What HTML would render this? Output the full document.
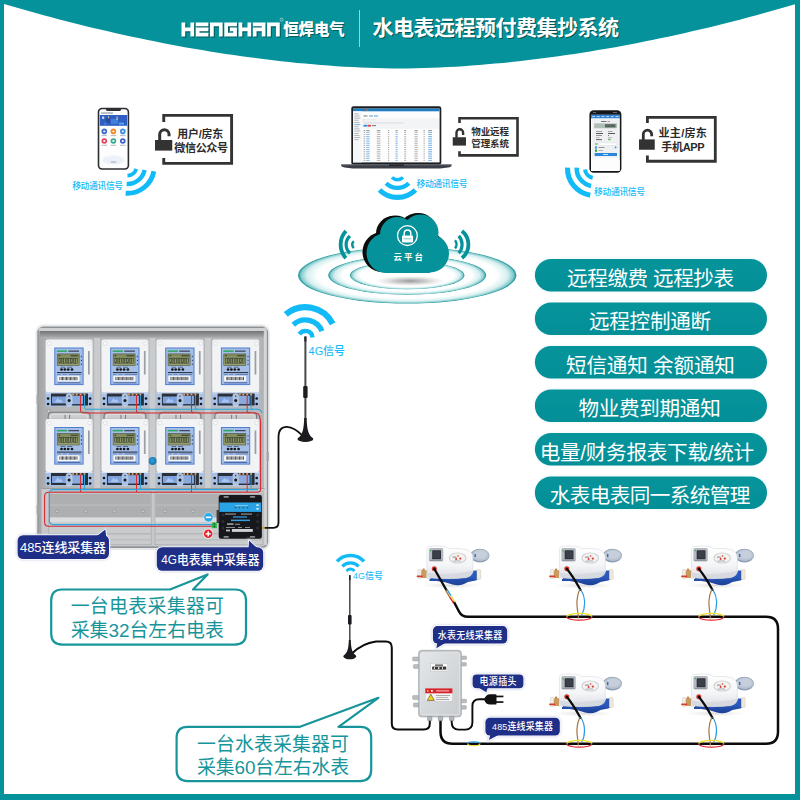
<!DOCTYPE html>
<html><head><meta charset="utf-8"><title>diagram</title>
<style>html,body{margin:0;padding:0;background:#fff;font-family:"Liberation Sans",sans-serif}svg{display:block}svg text{font-family:"Liberation Sans","Noto Sans CJK SC",sans-serif}</style>
</head><body>
<svg width="800" height="800" viewBox="0 0 800 800">
<defs><filter id="sh" x="-5%" y="-20%" width="110%" height="150%"><feGaussianBlur stdDeviation="0.7"/></filter><radialGradient id="rip"><stop offset="0" stop-color="#fff"/><stop offset="0.82" stop-color="#fff"/><stop offset="0.92" stop-color="#d6efef"/><stop offset="0.972" stop-color="#86cbce"/><stop offset="0.992" stop-color="#2b9da2"/><stop offset="1" stop-color="#2b9da2"/></radialGradient><radialGradient id="csh"><stop offset="0" stop-color="#6e6e6e" stop-opacity="0.7"/><stop offset="0.45" stop-color="#9a9a9a" stop-opacity="0.5"/><stop offset="1" stop-color="#ccc" stop-opacity="0"/></radialGradient><linearGradient id="pg" x1="0" y1="0" x2="0" y2="1"><stop offset="0" stop-color="#06949b"/><stop offset="1" stop-color="#048f97"/></linearGradient><filter id="pglow" x="-3%" y="-15%" width="106%" height="130%"><feGaussianBlur stdDeviation="1.1"/></filter><linearGradient id="bxtop" x1="0" y1="0" x2="0" y2="1"><stop offset="0" stop-color="#727578"/><stop offset="0.7" stop-color="#9c9ea0"/><stop offset="1" stop-color="#b2b4b6"/></linearGradient><linearGradient id="bxbody" x1="0" y1="0" x2="1" y2="0"><stop offset="0" stop-color="#a2a4a6"/><stop offset="0.05" stop-color="#b4b6b8"/><stop offset="0.95" stop-color="#b9bbbd"/><stop offset="1" stop-color="#acaeb0"/></linearGradient><linearGradient id="lcd" x1="0" y1="0" x2="0" y2="1"><stop offset="0" stop-color="#7f8a5c"/><stop offset="1" stop-color="#98a272"/></linearGradient><g id="meter"><rect x="-0.6" y="-0.4" width="48.2" height="54" rx="2.4" fill="#a9acb0" opacity="0.55"/><rect x="0" y="0" width="47" height="53" rx="2" fill="#f2f3f4"/><circle cx="3.6" cy="4" r="1.9" fill="#fafafa" stroke="#c9ccd0" stroke-width="0.5"/><circle cx="44.2" cy="4" r="1.9" fill="#fafafa" stroke="#c9ccd0" stroke-width="0.5"/><rect x="42.4" y="11.5" width="1.7" height="23.5" fill="#9a9da1"/><g transform="translate(0 0.7)"><rect x="9.2" y="7.8" width="28.3" height="36.6" fill="#a5bee6" stroke="#4f7dd0" stroke-width="1"/><rect x="11.2" y="10.2" width="10.2" height="1.5" fill="#2aa860"/><rect x="22.8" y="10.3" width="10.6" height="1.3" fill="#3d4a66"/><rect x="11.6" y="13.7" width="22" height="11.6" fill="url(#lcd)" stroke="#4d5540" stroke-width="0.6"/><rect x="12.8" y="15" width="2" height="1" fill="#3a4030"/><rect x="25" y="15" width="7.6" height="1.1" fill="#3a4030"/><rect x="13.30" y="18" width="1.75" height="5" fill="none" stroke="#353b2b" stroke-width="0.55"/><rect x="15.70" y="18" width="1.75" height="5" fill="none" stroke="#353b2b" stroke-width="0.55"/><rect x="18.10" y="18" width="1.75" height="5" fill="none" stroke="#353b2b" stroke-width="0.55"/><rect x="20.50" y="18" width="1.75" height="5" fill="none" stroke="#353b2b" stroke-width="0.55"/><rect x="22.90" y="18" width="1.75" height="5" fill="none" stroke="#353b2b" stroke-width="0.55"/><rect x="25.30" y="18" width="1.75" height="5" fill="none" stroke="#353b2b" stroke-width="0.55"/><rect x="27.70" y="18" width="1.75" height="5" fill="none" stroke="#353b2b" stroke-width="0.55"/><rect x="30.10" y="18" width="1.75" height="5" fill="none" stroke="#353b2b" stroke-width="0.55"/><rect x="35.3" y="15.6" width="1.1" height="1.4" fill="#3d4a66"/><rect x="35.3" y="19.6" width="1.1" height="1.4" fill="#3d4a66"/><rect x="35.3" y="23.4" width="1.1" height="1.4" fill="#3d4a66"/><circle cx="15.9" cy="29.3" r="1.35" fill="#16181c"/><circle cx="19.2" cy="29.3" r="1.35" fill="#16181c"/><circle cx="22.6" cy="29.3" r="1.35" fill="#16181c"/><circle cx="26.4" cy="29.3" r="1.35" fill="#16181c"/><rect x="15" y="26.6" width="4.6" height="0.7" fill="#3d4a66"/><rect x="21.5" y="26.6" width="5" height="0.7" fill="#3d4a66"/><rect x="11.4" y="31.9" width="24.6" height="1" fill="#252b3d"/><rect x="11.4" y="33.8" width="4" height="0.8" fill="#5d7fc0"/><rect x="17" y="33.8" width="4" height="0.8" fill="#5d7fc0"/><rect x="23" y="33.8" width="12.8" height="0.8" fill="#5572a8"/><rect x="11.9" y="35.5" width="22" height="5.8" rx="1.2" fill="#f7f8f9"/><rect x="13.80" y="36.7" width="0.50" height="3.3" fill="#2a2c30"/><rect x="15.12" y="36.7" width="0.80" height="3.3" fill="#2a2c30"/><rect x="16.44" y="36.7" width="0.80" height="3.3" fill="#2a2c30"/><rect x="17.76" y="36.7" width="0.50" height="3.3" fill="#2a2c30"/><rect x="19.08" y="36.7" width="0.80" height="3.3" fill="#2a2c30"/><rect x="20.40" y="36.7" width="0.80" height="3.3" fill="#2a2c30"/><rect x="21.72" y="36.7" width="0.50" height="3.3" fill="#2a2c30"/><rect x="23.04" y="36.7" width="0.80" height="3.3" fill="#2a2c30"/><rect x="24.36" y="36.7" width="0.80" height="3.3" fill="#2a2c30"/><rect x="25.68" y="36.7" width="0.50" height="3.3" fill="#2a2c30"/><rect x="27.00" y="36.7" width="0.80" height="3.3" fill="#2a2c30"/><rect x="28.32" y="36.7" width="0.80" height="3.3" fill="#2a2c30"/><rect x="29.64" y="36.7" width="0.50" height="3.3" fill="#2a2c30"/><rect x="30.96" y="36.7" width="0.80" height="3.3" fill="#2a2c30"/><rect x="12" y="42.2" width="23" height="0.9" fill="#3b57a0"/></g><rect x="0" y="53" width="47" height="14" fill="#a8c1e7"/><rect x="0" y="53" width="47" height="1" fill="#d9e4f4"/><rect x="5.4" y="54" width="37" height="12" fill="#2b2f38"/><rect x="6.4" y="57" width="14" height="7" fill="#7da1dc"/><rect x="26.4" y="56.2" width="11" height="8.4" fill="#8aaade"/><path d="M9 63l3.2-4.4 1.6 2.2 1.2-1.4 2.6 3.6z" fill="#a9c4ee"/><rect x="20.6" y="54.3" width="5.8" height="12.4" rx="2.2" fill="#a8c1e7" stroke="#e6eefa" stroke-width="0.5"/><circle cx="23.5" cy="61" r="1.5" fill="#15171b"/><circle cx="23.5" cy="56.6" r="0.7" fill="#15171b"/><circle cx="2.5" cy="59.0" r="1.35" fill="#15171b"/><circle cx="2.5" cy="64.5" r="1.35" fill="#15171b"/><circle cx="44.5" cy="59.0" r="1.35" fill="#15171b"/><circle cx="44.5" cy="64.5" r="1.35" fill="#15171b"/><circle cx="27.6" cy="55.1" r="1.05" fill="#e9a468"/><circle cx="31.1" cy="55.1" r="1.05" fill="#e9a468"/><circle cx="35.0" cy="55.1" r="1.05" fill="#e9a468"/><circle cx="38.9" cy="55.1" r="1.05" fill="#e9a468"/></g><filter id="nglow" x="-10%" y="-30%" width="120%" height="160%"><feGaussianBlur stdDeviation="0.9"/></filter><linearGradient id="wbody" x1="0" y1="0" x2="0" y2="1"><stop offset="0" stop-color="#ffffff"/><stop offset="0.6" stop-color="#f4f5f7"/><stop offset="1" stop-color="#d9dce2"/></linearGradient><linearGradient id="wpipe" x1="0" y1="0" x2="0" y2="1"><stop offset="0" stop-color="#3a6fd0"/><stop offset="0.5" stop-color="#2650b0"/><stop offset="1" stop-color="#1b3f95"/></linearGradient><radialGradient id="wsh"><stop offset="0" stop-color="#999" stop-opacity="0.35"/><stop offset="1" stop-color="#bbb" stop-opacity="0"/></radialGradient><g id="wm"><ellipse cx="24" cy="39.5" rx="30" ry="3" fill="url(#wsh)"/><path d="M3 26H51V33.4Q50 34.6 46.5 35Q41 35.6 37.5 38Q32 40.4 26 38.6Q19 35.6 10 35H3Z" fill="url(#wpipe)"/><rect x="50" y="23.6" width="4.2" height="9.8" rx="1" fill="#efe9dc" stroke="#c9c0ac" stroke-width="0.4"/><rect x="46.8" y="24.5" width="3.4" height="8.6" fill="#2c58b8"/><rect x="-8.6" y="23.4" width="3.6" height="9.2" rx="0.8" fill="#f1efe9" stroke="#c8c2b4" stroke-width="0.4"/><rect x="-5.2" y="24.2" width="5.6" height="7.8" fill="#c99a5e"/><rect x="-4" y="22.6" width="2.2" height="2" fill="#b9874a"/><rect x="-9.8" y="29.6" width="6" height="1.6" rx="0.6" fill="#d83a30"/><rect x="0" y="27" width="4" height="6" fill="#e7e9ee"/><path d="M42 12L47 8.5" stroke="#9aa7ba" stroke-width="1.6"/><ellipse cx="53.4" cy="9.6" rx="9.6" ry="6.8" fill="#8e9db4"/><ellipse cx="53.8" cy="9.2" rx="8.7" ry="5.9" fill="#b9c4d2"/><ellipse cx="54.2" cy="8.6" rx="6.6" ry="4" fill="#c6cfdb"/><rect x="48" y="8" width="1.4" height="3" fill="#3a66b8"/><g transform="scale(1.035 1.05)"><path d="M2.4 0.6Q8 -0.8 17 0.4Q20.5 0.8 22 2.6Q30 1.6 38 3.2Q44.5 5 44.8 11V24Q44.6 28.6 38 30.2Q22 32 4 30.4Q0.4 29.8 0.4 26V3.6Q0.4 1 2.4 0.6Z" fill="url(#wbody)" stroke="#d2d5da" stroke-width="0.5"/><path d="M0.6 25.5Q20 29 44.6 23.6V24Q44.6 28.6 38 30.2Q22 32 4 30.4Q0.6 29.8 0.6 26Z" fill="#d5d8de" opacity="0.9"/></g><rect x="2.4" y="2" width="14.4" height="13.6" rx="1.6" fill="#b4b8c0"/><rect x="5.7" y="4.3" width="8.8" height="9" rx="0.6" fill="#2b2f37"/><rect x="6.6" y="5.2" width="7" height="7" fill="#3b4048"/><circle cx="4.2" cy="4.8" r="0.8" fill="#2fc04a"/><rect x="3.4" y="13.8" width="12" height="1" fill="#8a8e96"/><ellipse cx="31.2" cy="12" rx="8.8" ry="5.6" fill="#c9ccd2"/><ellipse cx="31.2" cy="12" rx="7.8" ry="4.7" fill="#f4f2ee"/><circle cx="29.6" cy="13" r="1" fill="#d83a30"/><circle cx="33.8" cy="12.6" r="1.1" fill="#d83a30"/><circle cx="31.6" cy="10" r="0.8" fill="#d83a30"/><rect x="26" y="10.6" width="4" height="1" fill="#889"/><rect x="27" y="14.6" width="7" height="0.8" fill="#99a"/><circle cx="7.8" cy="22.8" r="2.5" fill="#d93324"/><circle cx="7.8" cy="22.8" r="1" fill="#8a1c12"/></g><linearGradient id="cbx" x1="0" y1="0" x2="1" y2="1"><stop offset="0" stop-color="#e3e6e8"/><stop offset="1" stop-color="#c9cdd0"/></linearGradient></defs>
<rect width="800" height="800" fill="#05929a"/>
<rect x="4" y="0" width="791" height="794" fill="#fff"/>
<path d="M0 0H800V4L796.0 4.0L788.1 6.3L780.2 8.6L772.2 10.8L764.3 13.0L756.4 15.2L748.5 17.3L740.6 19.4L732.6 21.5L724.7 23.5L716.8 25.4L708.9 27.4L701.0 29.3L693.0 31.1L685.1 32.9L677.2 34.7L669.3 36.4L661.4 38.1L653.4 39.7L645.5 41.3L637.6 42.9L629.7 44.4L621.8 45.9L613.8 47.4L605.9 48.8L598.0 50.1L590.1 51.4L582.2 52.7L574.2 53.9L566.3 55.1L558.4 56.2L550.5 57.3L542.6 58.3L534.6 59.3L526.7 60.3L518.8 61.2L510.9 62.1L503.0 62.9L495.0 63.6L487.1 64.3L479.2 65.0L471.3 65.6L463.4 66.2L455.4 66.7L447.5 67.1L439.6 67.5L431.7 67.8L423.8 68.1L415.8 68.3L407.9 68.4L400.0 68.5L392.1 68.4L384.2 68.3L376.2 68.1L368.3 67.8L360.4 67.5L352.5 67.1L344.6 66.7L336.6 66.2L328.7 65.6L320.8 65.0L312.9 64.3L305.0 63.6L297.0 62.9L289.1 62.1L281.2 61.2L273.3 60.3L265.4 59.3L257.4 58.3L249.5 57.3L241.6 56.2L233.7 55.1L225.8 53.9L217.8 52.7L209.9 51.4L202.0 50.1L194.1 48.8L186.2 47.4L178.2 45.9L170.3 44.4L162.4 42.9L154.5 41.3L146.6 39.7L138.6 38.1L130.7 36.4L122.8 34.7L114.9 32.9L107.0 31.1L99.0 29.3L91.1 27.4L83.2 25.4L75.3 23.5L67.4 21.5L59.4 19.4L51.5 17.3L43.6 15.2L35.7 13.0L27.8 10.8L19.8 8.6L11.9 6.3L4.0 4.0L0 4Z" fill="#05929a"/>
<g filter="url(#sh)" opacity="0.55"><path d="M182.60 23.70 h3.70 v13.90 h-3.70 zM191.52 23.70 h3.70 v13.90 h-3.70 zM182.60 28.80 h12.62 v3.70 h-12.62 zM196.87 23.70 h12.62 v3.70 h-12.62 zM196.87 28.80 h12.62 v3.70 h-12.62 zM196.87 33.90 h12.62 v3.70 h-12.62 zM196.87 28.80 h3.70 v8.80 h-3.70 zM211.14 23.70 h12.62 v3.70 h-12.62 zM211.14 23.70 h3.70 v13.90 h-3.70 zM220.06 23.70 h3.70 v13.90 h-3.70 zM225.41 23.70 h12.62 v3.70 h-12.62 zM225.41 23.70 h3.70 v13.90 h-3.70 zM225.41 33.90 h12.62 v3.70 h-12.62 zM234.33 28.80 h3.70 v8.80 h-3.70 zM231.09 28.80 h6.94 v3.70 h-6.94 zM239.68 23.70 h3.70 v13.90 h-3.70 zM248.60 23.70 h3.70 v13.90 h-3.70 zM239.68 28.80 h12.62 v3.70 h-12.62 zM253.95 23.70 h12.62 v3.70 h-12.62 zM253.95 28.80 h3.70 v8.80 h-3.70 zM262.87 23.70 h3.70 v13.90 h-3.70 zM253.95 28.80 h12.62 v3.70 h-12.62 zM268.22 23.70 h12.62 v3.70 h-12.62 zM268.22 23.70 h3.70 v13.90 h-3.70 zM277.14 23.70 h3.70 v13.90 h-3.70 z" fill="#033"/><text x="284.2" y="36.2" font-size="15.4" font-weight="900" fill="#033">恒焊电气</text><text x="373.6" y="36" font-size="21" font-weight="bold" letter-spacing="-0.5" fill="#022">水电表远程预付费集抄系统</text></g>
<path d="M181.50 22.50 h3.70 v13.90 h-3.70 zM190.42 22.50 h3.70 v13.90 h-3.70 zM181.50 27.60 h12.62 v3.70 h-12.62 zM195.77 22.50 h12.62 v3.70 h-12.62 zM195.77 27.60 h12.62 v3.70 h-12.62 zM195.77 32.70 h12.62 v3.70 h-12.62 zM195.77 27.60 h3.70 v8.80 h-3.70 zM210.04 22.50 h12.62 v3.70 h-12.62 zM210.04 22.50 h3.70 v13.90 h-3.70 zM218.96 22.50 h3.70 v13.90 h-3.70 zM224.31 22.50 h12.62 v3.70 h-12.62 zM224.31 22.50 h3.70 v13.90 h-3.70 zM224.31 32.70 h12.62 v3.70 h-12.62 zM233.23 27.60 h3.70 v8.80 h-3.70 zM229.99 27.60 h6.94 v3.70 h-6.94 zM238.58 22.50 h3.70 v13.90 h-3.70 zM247.50 22.50 h3.70 v13.90 h-3.70 zM238.58 27.60 h12.62 v3.70 h-12.62 zM252.85 22.50 h12.62 v3.70 h-12.62 zM252.85 27.60 h3.70 v8.80 h-3.70 zM261.77 22.50 h3.70 v13.90 h-3.70 zM252.85 27.60 h12.62 v3.70 h-12.62 zM267.12 22.50 h12.62 v3.70 h-12.62 zM267.12 22.50 h3.70 v13.90 h-3.70 zM276.04 22.50 h3.70 v13.90 h-3.70 z" fill="#fff"/>
<circle cx="281.6" cy="19.6" r="1.5" fill="none" stroke="#fff" stroke-width="0.5"/>
<text x="283.2" y="35.2" font-size="15.4" font-weight="900" fill="#fff">恒焊电气</text>
<rect x="359" y="10" width="1" height="37" fill="#bfe3e5" opacity="0.8"/>
<text x="372.5" y="34.9" font-size="21" font-weight="bold" letter-spacing="-0.5" fill="#fff">水电表远程预付费集抄系统</text>
<rect x="97.7" y="107.7" width="31.5" height="62.1" rx="4.2" fill="#2e2f33"/><rect x="99.3" y="109.2" width="28.3" height="59.1" rx="3" fill="#fdfdfe"/><path d="M106 108.6h15v0.8q0 1.5-1.8 1.5h-11.4q-1.8 0-1.8-1.5z" fill="#2e2f33"/><rect x="101" y="112.4" width="12" height="1.3" fill="#9aa0aa"/><rect x="99.8" y="115" width="27.3" height="10.8" fill="#2f5fc2"/><rect x="102.0" y="116.5" width="2.2" height="2.4" fill="#dfe8ff" opacity="0.85"/><rect x="106.0" y="118.0" width="4.0" height="5.0" fill="#27489c" opacity="0.85"/><rect x="111.0" y="119.0" width="7.0" height="5.0" fill="#3f86e0" opacity="0.85"/><rect x="116.5" y="116.5" width="1.2" height="3.5" fill="#e8d9a0" opacity="0.85"/><rect x="108.0" y="116.3" width="1.0" height="2.0" fill="#f0d080" opacity="0.85"/><rect x="119.0" y="122.5" width="5.0" height="2.2" fill="#4fb3e8" opacity="0.85"/><rect x="104.0" y="122.5" width="3.0" height="2.2" fill="#4a78d8" opacity="0.85"/><circle cx="104.3" cy="131.4" r="2.8" fill="#3a6cc8"/><rect x="103.3" y="130.5" width="2" height="1.8" rx="0.4" fill="#fff" opacity="0.9"/><rect x="101.5" y="135.2" width="5.6" height="0.9" fill="#9aa0aa" opacity="0.8"/><circle cx="113.4" cy="131.4" r="2.8" fill="#f08a24"/><rect x="112.4" y="130.5" width="2" height="1.8" rx="0.4" fill="#fff" opacity="0.9"/><rect x="110.6" y="135.2" width="5.6" height="0.9" fill="#9aa0aa" opacity="0.8"/><circle cx="122.8" cy="131.4" r="2.8" fill="#3b8ede"/><rect x="121.8" y="130.5" width="2" height="1.8" rx="0.4" fill="#fff" opacity="0.9"/><rect x="120.0" y="135.2" width="5.6" height="0.9" fill="#9aa0aa" opacity="0.8"/><circle cx="104.3" cy="141.0" r="2.8" fill="#e0405a"/><rect x="103.3" y="140.1" width="2" height="1.8" rx="0.4" fill="#fff" opacity="0.9"/><rect x="101.5" y="144.8" width="5.6" height="0.9" fill="#9aa0aa" opacity="0.8"/><circle cx="113.4" cy="141.0" r="2.8" fill="#2faa8a"/><rect x="112.4" y="140.1" width="2" height="1.8" rx="0.4" fill="#fff" opacity="0.9"/><rect x="110.6" y="144.8" width="5.6" height="0.9" fill="#9aa0aa" opacity="0.8"/><circle cx="122.8" cy="141.0" r="2.8" fill="#3a5fc0"/><rect x="121.8" y="140.1" width="2" height="1.8" rx="0.4" fill="#fff" opacity="0.9"/><rect x="120.0" y="144.8" width="5.6" height="0.9" fill="#9aa0aa" opacity="0.8"/><ellipse cx="113.5" cy="160" rx="11" ry="4.5" fill="#e6ecf8" opacity="0.7"/><rect x="110.8" y="161.6" width="5.4" height="0.8" fill="#8a8f98"/>
<path d="M163.75 121.90 V115.40 H231.60 V163.40 H163.75 V158.10" fill="none" stroke="#333333" stroke-width="2.90"/>
<rect x="155.00" y="140.00" width="17.25" height="10.60" fill="#333333"/><path d="M159.70 140.50 V134.28 A4.68 4.68 0 0 1 169.05 134.28 V136.25" fill="none" stroke="#333333" stroke-width="3.00"/>
<text x="177.2" y="137.64" font-size="10.9" font-weight="bold" letter-spacing="-0.15" fill="#2b2b2b">用户/房东</text>
<text x="174.35" y="151.52" font-size="11.1" font-weight="bold" letter-spacing="-0.45" fill="#2b2b2b">微信公众号</text>
<path d="M136.24 168.86 A9.30 9.30 0 0 1 127.46 175.60" fill="none" stroke="#12bbf7" stroke-width="3.80"/><path d="M144.61 169.98 A17.70 17.70 0 0 1 126.68 183.99" fill="none" stroke="#12bbf7" stroke-width="4.30"/><path d="M153.85 171.22 A27.00 27.00 0 0 1 125.65 193.25" fill="none" stroke="#12bbf7" stroke-width="4.90"/>
<text x="72.2" y="188.94" font-size="8.8" font-weight="500" letter-spacing="-0.36" fill="#12bbf7">移动通讯信号</text>
<rect x="351.3" y="106.2" width="90" height="58.6" rx="2.2" fill="#1e1f23"/><rect x="353" y="108.6" width="86.6" height="53.8" fill="#fdfdfe"/><rect x="353" y="108.6" width="86.6" height="2.7" fill="#1f7fc4"/><rect x="364.5" y="109.2" width="2.2" height="1.4" fill="#d44"/><rect x="366.7" y="109.2" width="1.6" height="1.4" fill="#4a4"/><rect x="353" y="111.3" width="8.8" height="51.1" fill="#f6f7f9"/><rect x="354.2" y="113.5" width="4.5" height="0.8" fill="#8d939c" opacity="0.8"/><rect x="354.2" y="115.6" width="5.3" height="0.8" fill="#8d939c" opacity="0.8"/><rect x="354.2" y="117.7" width="6.1" height="0.8" fill="#8d939c" opacity="0.8"/><rect x="354.2" y="119.8" width="4.5" height="0.8" fill="#8d939c" opacity="0.8"/><rect x="354.2" y="122.2" width="5.3" height="0.8" fill="#8d939c" opacity="0.8"/><rect x="354.2" y="124.3" width="6.1" height="0.8" fill="#2b86d9" opacity="0.8"/><rect x="354.2" y="126.4" width="4.5" height="0.8" fill="#8d939c" opacity="0.8"/><rect x="354.2" y="128.5" width="5.3" height="0.8" fill="#8d939c" opacity="0.8"/><rect x="354.2" y="130.6" width="6.1" height="0.8" fill="#8d939c" opacity="0.8"/><rect x="354.2" y="133.0" width="4.5" height="0.8" fill="#8d939c" opacity="0.8"/><rect x="354.2" y="135.1" width="5.3" height="0.8" fill="#8d939c" opacity="0.8"/><rect x="354.2" y="137.2" width="6.1" height="0.8" fill="#8d939c" opacity="0.8"/><rect x="354.2" y="139.3" width="4.5" height="0.8" fill="#8d939c" opacity="0.8"/><rect x="363.5" y="115.6" width="4" height="0.8" fill="#555"/><rect x="369" y="115.6" width="4" height="0.8" fill="#2b86d9"/><rect x="374" y="115.6" width="4" height="0.8" fill="#2b86d9"/><rect x="362" y="118.3" width="77" height="10.6" fill="#f3f4f6"/><rect x="363.5" y="119.6" width="12" height="1.3" fill="#fff" stroke="#ccc" stroke-width="0.3"/><rect x="363.5" y="122.3" width="40" height="1.2" fill="#dcdfe3"/><rect x="363.5" y="124.8" width="3.4" height="1.8" fill="#2b86d9"/><rect x="367.4" y="124.8" width="3.6" height="1.8" fill="#e2404a"/><rect x="372" y="125.2" width="4" height="0.9" fill="#666"/><rect x="363.6" y="130.40" width="1.6" height="0.75" fill="#555" opacity="0.90"/><rect x="366.2" y="130.40" width="3.4" height="0.75" fill="#555" opacity="0.90"/><rect x="376.8" y="130.40" width="3.6" height="0.75" fill="#555" opacity="0.90"/><rect x="388.0" y="130.40" width="1.2" height="0.75" fill="#555" opacity="0.90"/><rect x="395.5" y="130.40" width="2.2" height="0.75" fill="#555" opacity="0.90"/><rect x="404.2" y="130.40" width="2.0" height="0.75" fill="#555" opacity="0.90"/><rect x="414.5" y="130.40" width="3.2" height="0.75" fill="#555" opacity="0.90"/><rect x="423.5" y="130.40" width="1.4" height="0.75" fill="#555" opacity="0.90"/><rect x="428.2" y="130.40" width="3.8" height="0.75" fill="#555" opacity="0.90"/><rect x="363.6" y="132.26" width="1.6" height="0.75" fill="#777" opacity="0.75"/><rect x="366.2" y="132.26" width="3.4" height="0.75" fill="#3a8fe0" opacity="0.75"/><rect x="376.8" y="132.26" width="3.6" height="0.75" fill="#888" opacity="0.75"/><rect x="388.0" y="132.26" width="1.2" height="0.75" fill="#777" opacity="0.75"/><rect x="395.5" y="132.26" width="2.2" height="0.75" fill="#3a8fe0" opacity="0.75"/><rect x="404.2" y="132.26" width="2.0" height="0.75" fill="#888" opacity="0.75"/><rect x="414.5" y="132.26" width="3.2" height="0.75" fill="#888" opacity="0.75"/><rect x="423.5" y="132.26" width="1.4" height="0.75" fill="#888" opacity="0.75"/><rect x="428.2" y="132.26" width="3.8" height="0.75" fill="#2b86d9" opacity="0.75"/><rect x="363.6" y="134.12" width="1.6" height="0.75" fill="#777" opacity="0.75"/><rect x="366.2" y="134.12" width="3.4" height="0.75" fill="#3a8fe0" opacity="0.75"/><rect x="376.8" y="134.12" width="3.6" height="0.75" fill="#888" opacity="0.75"/><rect x="388.0" y="134.12" width="1.2" height="0.75" fill="#777" opacity="0.75"/><rect x="395.5" y="134.12" width="2.2" height="0.75" fill="#3a8fe0" opacity="0.75"/><rect x="404.2" y="134.12" width="2.0" height="0.75" fill="#888" opacity="0.75"/><rect x="414.5" y="134.12" width="3.2" height="0.75" fill="#888" opacity="0.75"/><rect x="423.5" y="134.12" width="1.4" height="0.75" fill="#888" opacity="0.75"/><rect x="428.2" y="134.12" width="3.8" height="0.75" fill="#2b86d9" opacity="0.75"/><rect x="363.6" y="135.98" width="1.6" height="0.75" fill="#777" opacity="0.75"/><rect x="366.2" y="135.98" width="3.4" height="0.75" fill="#3a8fe0" opacity="0.75"/><rect x="376.8" y="135.98" width="3.6" height="0.75" fill="#888" opacity="0.75"/><rect x="388.0" y="135.98" width="1.2" height="0.75" fill="#777" opacity="0.75"/><rect x="395.5" y="135.98" width="2.2" height="0.75" fill="#3a8fe0" opacity="0.75"/><rect x="404.2" y="135.98" width="2.0" height="0.75" fill="#888" opacity="0.75"/><rect x="414.5" y="135.98" width="3.2" height="0.75" fill="#888" opacity="0.75"/><rect x="423.5" y="135.98" width="1.4" height="0.75" fill="#888" opacity="0.75"/><rect x="428.2" y="135.98" width="3.8" height="0.75" fill="#2b86d9" opacity="0.75"/><rect x="363.6" y="137.84" width="1.6" height="0.75" fill="#777" opacity="0.75"/><rect x="366.2" y="137.84" width="3.4" height="0.75" fill="#3a8fe0" opacity="0.75"/><rect x="376.8" y="137.84" width="3.6" height="0.75" fill="#888" opacity="0.75"/><rect x="388.0" y="137.84" width="1.2" height="0.75" fill="#777" opacity="0.75"/><rect x="395.5" y="137.84" width="2.2" height="0.75" fill="#3a8fe0" opacity="0.75"/><rect x="404.2" y="137.84" width="2.0" height="0.75" fill="#888" opacity="0.75"/><rect x="414.5" y="137.84" width="3.2" height="0.75" fill="#888" opacity="0.75"/><rect x="423.5" y="137.84" width="1.4" height="0.75" fill="#888" opacity="0.75"/><rect x="428.2" y="137.84" width="3.8" height="0.75" fill="#2b86d9" opacity="0.75"/><rect x="363.6" y="139.70" width="1.6" height="0.75" fill="#777" opacity="0.75"/><rect x="366.2" y="139.70" width="3.4" height="0.75" fill="#3a8fe0" opacity="0.75"/><rect x="376.8" y="139.70" width="3.6" height="0.75" fill="#888" opacity="0.75"/><rect x="388.0" y="139.70" width="1.2" height="0.75" fill="#777" opacity="0.75"/><rect x="395.5" y="139.70" width="2.2" height="0.75" fill="#3a8fe0" opacity="0.75"/><rect x="404.2" y="139.70" width="2.0" height="0.75" fill="#888" opacity="0.75"/><rect x="414.5" y="139.70" width="3.2" height="0.75" fill="#888" opacity="0.75"/><rect x="423.5" y="139.70" width="1.4" height="0.75" fill="#888" opacity="0.75"/><rect x="428.2" y="139.70" width="3.8" height="0.75" fill="#2b86d9" opacity="0.75"/><rect x="363.6" y="141.56" width="1.6" height="0.75" fill="#777" opacity="0.75"/><rect x="366.2" y="141.56" width="3.4" height="0.75" fill="#3a8fe0" opacity="0.75"/><rect x="376.8" y="141.56" width="3.6" height="0.75" fill="#888" opacity="0.75"/><rect x="388.0" y="141.56" width="1.2" height="0.75" fill="#777" opacity="0.75"/><rect x="395.5" y="141.56" width="2.2" height="0.75" fill="#3a8fe0" opacity="0.75"/><rect x="404.2" y="141.56" width="2.0" height="0.75" fill="#888" opacity="0.75"/><rect x="414.5" y="141.56" width="3.2" height="0.75" fill="#888" opacity="0.75"/><rect x="423.5" y="141.56" width="1.4" height="0.75" fill="#888" opacity="0.75"/><rect x="428.2" y="141.56" width="3.8" height="0.75" fill="#2b86d9" opacity="0.75"/><rect x="363.6" y="143.42" width="1.6" height="0.75" fill="#777" opacity="0.75"/><rect x="366.2" y="143.42" width="3.4" height="0.75" fill="#3a8fe0" opacity="0.75"/><rect x="376.8" y="143.42" width="3.6" height="0.75" fill="#888" opacity="0.75"/><rect x="388.0" y="143.42" width="1.2" height="0.75" fill="#777" opacity="0.75"/><rect x="395.5" y="143.42" width="2.2" height="0.75" fill="#3a8fe0" opacity="0.75"/><rect x="404.2" y="143.42" width="2.0" height="0.75" fill="#888" opacity="0.75"/><rect x="414.5" y="143.42" width="3.2" height="0.75" fill="#888" opacity="0.75"/><rect x="423.5" y="143.42" width="1.4" height="0.75" fill="#888" opacity="0.75"/><rect x="428.2" y="143.42" width="3.8" height="0.75" fill="#2b86d9" opacity="0.75"/><rect x="363.6" y="145.28" width="1.6" height="0.75" fill="#777" opacity="0.75"/><rect x="366.2" y="145.28" width="3.4" height="0.75" fill="#3a8fe0" opacity="0.75"/><rect x="376.8" y="145.28" width="3.6" height="0.75" fill="#888" opacity="0.75"/><rect x="388.0" y="145.28" width="1.2" height="0.75" fill="#777" opacity="0.75"/><rect x="395.5" y="145.28" width="2.2" height="0.75" fill="#3a8fe0" opacity="0.75"/><rect x="404.2" y="145.28" width="2.0" height="0.75" fill="#888" opacity="0.75"/><rect x="414.5" y="145.28" width="3.2" height="0.75" fill="#888" opacity="0.75"/><rect x="423.5" y="145.28" width="1.4" height="0.75" fill="#888" opacity="0.75"/><rect x="428.2" y="145.28" width="3.8" height="0.75" fill="#2b86d9" opacity="0.75"/><rect x="363.6" y="147.14" width="1.6" height="0.75" fill="#777" opacity="0.75"/><rect x="366.2" y="147.14" width="3.4" height="0.75" fill="#3a8fe0" opacity="0.75"/><rect x="376.8" y="147.14" width="3.6" height="0.75" fill="#888" opacity="0.75"/><rect x="388.0" y="147.14" width="1.2" height="0.75" fill="#777" opacity="0.75"/><rect x="395.5" y="147.14" width="2.2" height="0.75" fill="#3a8fe0" opacity="0.75"/><rect x="404.2" y="147.14" width="2.0" height="0.75" fill="#888" opacity="0.75"/><rect x="414.5" y="147.14" width="3.2" height="0.75" fill="#888" opacity="0.75"/><rect x="423.5" y="147.14" width="1.4" height="0.75" fill="#888" opacity="0.75"/><rect x="428.2" y="147.14" width="3.8" height="0.75" fill="#2b86d9" opacity="0.75"/><rect x="363.6" y="149.00" width="1.6" height="0.75" fill="#777" opacity="0.75"/><rect x="366.2" y="149.00" width="3.4" height="0.75" fill="#3a8fe0" opacity="0.75"/><rect x="376.8" y="149.00" width="3.6" height="0.75" fill="#888" opacity="0.75"/><rect x="388.0" y="149.00" width="1.2" height="0.75" fill="#777" opacity="0.75"/><rect x="395.5" y="149.00" width="2.2" height="0.75" fill="#3a8fe0" opacity="0.75"/><rect x="404.2" y="149.00" width="2.0" height="0.75" fill="#888" opacity="0.75"/><rect x="414.5" y="149.00" width="3.2" height="0.75" fill="#888" opacity="0.75"/><rect x="423.5" y="149.00" width="1.4" height="0.75" fill="#888" opacity="0.75"/><rect x="428.2" y="149.00" width="3.8" height="0.75" fill="#2b86d9" opacity="0.75"/><rect x="363.6" y="150.86" width="1.6" height="0.75" fill="#777" opacity="0.75"/><rect x="366.2" y="150.86" width="3.4" height="0.75" fill="#3a8fe0" opacity="0.75"/><rect x="376.8" y="150.86" width="3.6" height="0.75" fill="#888" opacity="0.75"/><rect x="388.0" y="150.86" width="1.2" height="0.75" fill="#777" opacity="0.75"/><rect x="395.5" y="150.86" width="2.2" height="0.75" fill="#3a8fe0" opacity="0.75"/><rect x="404.2" y="150.86" width="2.0" height="0.75" fill="#888" opacity="0.75"/><rect x="414.5" y="150.86" width="3.2" height="0.75" fill="#888" opacity="0.75"/><rect x="423.5" y="150.86" width="1.4" height="0.75" fill="#888" opacity="0.75"/><rect x="428.2" y="150.86" width="3.8" height="0.75" fill="#2b86d9" opacity="0.75"/><rect x="363.6" y="152.72" width="1.6" height="0.75" fill="#777" opacity="0.75"/><rect x="366.2" y="152.72" width="3.4" height="0.75" fill="#3a8fe0" opacity="0.75"/><rect x="376.8" y="152.72" width="3.6" height="0.75" fill="#888" opacity="0.75"/><rect x="388.0" y="152.72" width="1.2" height="0.75" fill="#777" opacity="0.75"/><rect x="395.5" y="152.72" width="2.2" height="0.75" fill="#3a8fe0" opacity="0.75"/><rect x="404.2" y="152.72" width="2.0" height="0.75" fill="#888" opacity="0.75"/><rect x="414.5" y="152.72" width="3.2" height="0.75" fill="#888" opacity="0.75"/><rect x="423.5" y="152.72" width="1.4" height="0.75" fill="#888" opacity="0.75"/><rect x="428.2" y="152.72" width="3.8" height="0.75" fill="#2b86d9" opacity="0.75"/><rect x="363.6" y="154.58" width="1.6" height="0.75" fill="#777" opacity="0.75"/><rect x="366.2" y="154.58" width="3.4" height="0.75" fill="#3a8fe0" opacity="0.75"/><rect x="376.8" y="154.58" width="3.6" height="0.75" fill="#888" opacity="0.75"/><rect x="388.0" y="154.58" width="1.2" height="0.75" fill="#777" opacity="0.75"/><rect x="395.5" y="154.58" width="2.2" height="0.75" fill="#3a8fe0" opacity="0.75"/><rect x="404.2" y="154.58" width="2.0" height="0.75" fill="#888" opacity="0.75"/><rect x="414.5" y="154.58" width="3.2" height="0.75" fill="#888" opacity="0.75"/><rect x="423.5" y="154.58" width="1.4" height="0.75" fill="#888" opacity="0.75"/><rect x="428.2" y="154.58" width="3.8" height="0.75" fill="#2b86d9" opacity="0.75"/><rect x="363.6" y="156.44" width="1.6" height="0.75" fill="#777" opacity="0.75"/><rect x="366.2" y="156.44" width="3.4" height="0.75" fill="#3a8fe0" opacity="0.75"/><rect x="376.8" y="156.44" width="3.6" height="0.75" fill="#888" opacity="0.75"/><rect x="388.0" y="156.44" width="1.2" height="0.75" fill="#777" opacity="0.75"/><rect x="395.5" y="156.44" width="2.2" height="0.75" fill="#3a8fe0" opacity="0.75"/><rect x="404.2" y="156.44" width="2.0" height="0.75" fill="#888" opacity="0.75"/><rect x="414.5" y="156.44" width="3.2" height="0.75" fill="#888" opacity="0.75"/><rect x="423.5" y="156.44" width="1.4" height="0.75" fill="#888" opacity="0.75"/><rect x="428.2" y="156.44" width="3.8" height="0.75" fill="#2b86d9" opacity="0.75"/><rect x="363.6" y="158.30" width="1.6" height="0.75" fill="#777" opacity="0.75"/><rect x="366.2" y="158.30" width="3.4" height="0.75" fill="#3a8fe0" opacity="0.75"/><rect x="376.8" y="158.30" width="3.6" height="0.75" fill="#888" opacity="0.75"/><rect x="388.0" y="158.30" width="1.2" height="0.75" fill="#777" opacity="0.75"/><rect x="395.5" y="158.30" width="2.2" height="0.75" fill="#3a8fe0" opacity="0.75"/><rect x="404.2" y="158.30" width="2.0" height="0.75" fill="#888" opacity="0.75"/><rect x="414.5" y="158.30" width="3.2" height="0.75" fill="#888" opacity="0.75"/><rect x="423.5" y="158.30" width="1.4" height="0.75" fill="#888" opacity="0.75"/><rect x="428.2" y="158.30" width="3.8" height="0.75" fill="#2b86d9" opacity="0.75"/><rect x="363.6" y="160.16" width="1.6" height="0.75" fill="#777" opacity="0.75"/><rect x="366.2" y="160.16" width="3.4" height="0.75" fill="#3a8fe0" opacity="0.75"/><rect x="376.8" y="160.16" width="3.6" height="0.75" fill="#888" opacity="0.75"/><rect x="388.0" y="160.16" width="1.2" height="0.75" fill="#777" opacity="0.75"/><rect x="395.5" y="160.16" width="2.2" height="0.75" fill="#3a8fe0" opacity="0.75"/><rect x="404.2" y="160.16" width="2.0" height="0.75" fill="#888" opacity="0.75"/><rect x="414.5" y="160.16" width="3.2" height="0.75" fill="#888" opacity="0.75"/><rect x="423.5" y="160.16" width="1.4" height="0.75" fill="#888" opacity="0.75"/><rect x="428.2" y="160.16" width="3.8" height="0.75" fill="#2b86d9" opacity="0.75"/><path d="M341.2 164.6H451.5V165.8Q451.5 167 448 167.6L440 168.4H352.5L344.6 167.6Q341.2 167 341.2 165.8Z" fill="#3b3e46"/><rect x="341.2" y="164.5" width="110.3" height="0.8" fill="#6a6e78"/><path d="M389 164.6h15v0.6q0 0.9-1.2 0.9h-12.6q-1.2 0-1.2-0.9z" fill="#22242a"/>
<path d="M459.50 123.10 V118.30 H517.50 V155.40 H459.50 V151.25" fill="none" stroke="#333333" stroke-width="2.60"/>
<rect x="452.75" y="137.25" width="13.25" height="8.35" fill="#333333"/><path d="M456.50 137.75 V132.60 A3.30 3.30 0 0 1 463.10 132.60 V135.00" fill="none" stroke="#333333" stroke-width="2.40"/>
<text x="471.23" y="134.61" font-size="9.5" font-weight="bold" letter-spacing="-0.09" fill="#2b2b2b">物业远程</text>
<text x="471.23" y="147.01" font-size="9.5" font-weight="bold" letter-spacing="-0.09" fill="#2b2b2b">管理系统</text>
<path d="M402.99 177.35 A7.70 7.70 0 0 1 391.91 177.35" fill="none" stroke="#12bbf7" stroke-width="3.50"/><path d="M408.79 183.14 A15.90 15.90 0 0 1 386.11 183.14" fill="none" stroke="#12bbf7" stroke-width="4.30"/><path d="M415.41 189.96 A25.40 25.40 0 0 1 379.49 189.96" fill="none" stroke="#12bbf7" stroke-width="5.10"/>
<text x="416.5" y="187.34" font-size="8.8" font-weight="500" letter-spacing="-0.36" fill="#12bbf7">移动通讯信号</text>
<rect x="589.4" y="110.3" width="32" height="62.4" rx="4.2" fill="#17181b"/><rect x="591" y="114.8" width="28.8" height="56.2" rx="0" fill="#fdfdfe"/><path d="M591 160H619.8V168Q619.8 171 616.8 171H594Q591 171 591 168Z" fill="#fdfdfe"/><rect x="591" y="114.8" width="28.8" height="3.6" fill="#2b7fd6"/><rect x="592.0" y="116.2" width="3" height="0.9" fill="#cfe4fb"/><rect x="596.7" y="116.2" width="3" height="0.9" fill="#cfe4fb"/><rect x="601.4" y="116.2" width="3" height="0.9" fill="#cfe4fb"/><rect x="606.1" y="116.2" width="3" height="0.9" fill="#cfe4fb"/><rect x="610.8" y="116.2" width="3" height="0.9" fill="#cfe4fb"/><rect x="615.5" y="116.2" width="3" height="0.9" fill="#cfe4fb"/><rect x="592.2" y="118.6" width="26.6" height="39.2" fill="#eef0f2"/><rect x="601" y="121" width="5.5" height="0.9" fill="#666"/><rect x="607.5" y="121" width="2.5" height="0.9" fill="#999"/><rect x="594.2" y="123.4" width="22.8" height="4.8" fill="#aebfb6"/><rect x="605" y="124.2" width="10.5" height="3.2" fill="#3b4a42" opacity="0.75"/><rect x="596.0" y="131.0" width="6.0" height="0.9" fill="#999"/><rect x="608.0" y="131.0" width="4.5" height="0.9" fill="#999"/><rect x="596.0" y="133.0" width="7.0" height="0.9" fill="#444"/><rect x="608.0" y="133.0" width="7.0" height="0.9" fill="#444"/><rect x="596.0" y="135.0" width="6.0" height="0.9" fill="#888"/><rect x="608.0" y="135.0" width="1.0" height="0.9" fill="#666"/><rect x="596.0" y="137.3" width="3.5" height="0.9" fill="#aaa"/><rect x="608.0" y="137.3" width="4.0" height="0.9" fill="#aaa"/><rect x="596.0" y="139.2" width="6.0" height="0.9" fill="#555"/><rect x="608.0" y="139.2" width="2.6" height="0.9" fill="#3a3"/><rect x="598.5" y="143" width="18.2" height="2.2" fill="#fff" stroke="#c8d2c8" stroke-width="0.3"/><rect x="595" y="143.5" width="2.6" height="1" fill="#3a3"/><rect x="595" y="146.4" width="2" height="2.2" fill="#3b8ede"/><rect x="595" y="149.4" width="2" height="2.4" fill="#3a3"/><rect x="598.5" y="147" width="6" height="0.9" fill="#888"/><rect x="598.5" y="150" width="4.5" height="0.9" fill="#aaa"/><circle cx="615.6" cy="147.4" r="0.9" fill="#3b8ede"/><rect x="594.7" y="153" width="22.3" height="3" fill="#2b86d9"/><rect x="603" y="154.1" width="5" height="0.8" fill="#dff"/><rect x="593" y="112.2" width="3" height="0.7" fill="#889"/><rect x="613" y="112.2" width="4" height="0.7" fill="#889"/>
<path d="M647.40 123.10 V117.40 H715.30 V161.25 H647.40 V155.60" fill="none" stroke="#333333" stroke-width="2.80"/>
<rect x="639.00" y="139.40" width="15.75" height="10.35" fill="#333333"/><path d="M643.30 139.90 V134.40 A4.20 4.20 0 0 1 651.70 134.40 V136.25" fill="none" stroke="#333333" stroke-width="2.80"/>
<text x="658.5" y="136.72" font-size="11.1" font-weight="bold" letter-spacing="0.22" fill="#2b2b2b">业主/房东</text>
<text x="661.25" y="151.08" font-size="11" font-weight="bold" letter-spacing="-0.3" fill="#2b2b2b">手机APP</text>
<path d="M592.69 177.83 A9.50 9.50 0 0 1 585.05 169.49" fill="none" stroke="#12bbf7" stroke-width="4.00"/><path d="M591.10 185.97 A17.80 17.80 0 0 1 576.72 167.57" fill="none" stroke="#12bbf7" stroke-width="4.50"/><path d="M590.28 195.17 A27.00 27.00 0 0 1 567.52 167.56" fill="none" stroke="#12bbf7" stroke-width="5.10"/>
<text x="594.1" y="194.84" font-size="8.8" font-weight="500" letter-spacing="-0.36" fill="#12bbf7">移动通讯信号</text>
<ellipse cx="407.2" cy="275.3" rx="109.2" ry="28.3" fill="url(#rip)"/>
<ellipse cx="407.2" cy="275.3" rx="78.9" ry="19.5" fill="url(#rip)"/>
<ellipse cx="407.2" cy="275.3" rx="57.2" ry="14.0" fill="url(#rip)"/>
<ellipse cx="410" cy="281" rx="36" ry="5.2" fill="url(#csh)"/>
<g transform="translate(-4.0 -1.0)" fill="#0c0c0c"><circle cx="386.5" cy="253" r="20"/><circle cx="430" cy="253.5" r="19"/><circle cx="397.5" cy="234.5" r="17.5"/><circle cx="420.5" cy="232.5" r="18"/><rect x="386" y="240" width="44" height="33"/></g>
<g transform="translate(-2.0 -1.6)" fill="#0c0c0c"><circle cx="386.5" cy="253" r="20"/><circle cx="430" cy="253.5" r="19"/><circle cx="397.5" cy="234.5" r="17.5"/><circle cx="420.5" cy="232.5" r="18"/><rect x="386" y="240" width="44" height="33"/></g>
<g transform="translate(0.0 0.0)" fill="#05929a"><circle cx="386.5" cy="253" r="20"/><circle cx="430" cy="253.5" r="19"/><circle cx="397.5" cy="234.5" r="17.5"/><circle cx="420.5" cy="232.5" r="18"/><rect x="386" y="240" width="44" height="33"/></g>
<circle cx="407.4" cy="235.6" r="9.9" fill="none" stroke="#fff" stroke-width="1.3"/>
<rect x="402" y="235.4" width="11" height="7" rx="0.8" fill="#fff"/><path d="M404.2 235.8V233.4A3.3 3.3 0 0 1 410.8 233.4V235.8" fill="none" stroke="#fff" stroke-width="1.5"/><rect x="403.6" y="238.3" width="7.8" height="1" fill="#7fc4c8"/>
<text x="393.6" y="259.89" font-size="8.4" font-weight="bold" letter-spacing="2.1" fill="#fff">云平台</text>
<path d="M455.00 240.19 A6.40 6.40 0 0 1 455.00 248.41" fill="none" stroke="#05929a" stroke-width="2.50"/><path d="M458.72 235.91 A12.60 12.60 0 0 1 458.72 253.09" fill="none" stroke="#05929a" stroke-width="3.20"/><path d="M461.95 230.98 A17.40 17.40 0 0 1 461.95 258.02" fill="none" stroke="#05929a" stroke-width="3.80"/>
<path d="M353.85 247.99 A4.30 4.30 0 0 1 353.85 241.21" fill="none" stroke="#05929a" stroke-width="2.50"/><path d="M349.94 253.22 A11.60 11.60 0 0 1 349.94 235.98" fill="none" stroke="#05929a" stroke-width="3.20"/><path d="M345.90 258.11 A20.00 20.00 0 0 1 345.90 231.09" fill="none" stroke="#05929a" stroke-width="3.80"/>
<rect x="533.9" y="258.10" width="234.1" height="34.1" rx="17" fill="#bfe3e5" opacity="0.25" filter="url(#pglow)"/>
<rect x="534.9" y="258.90" width="232.1" height="32.5" rx="16.25" fill="url(#pg)"/>
<text x="567.1" y="285.83" font-size="20.6" letter-spacing="-0.43" fill="#fff">远程缴费 远程抄表</text>
<rect x="533.9" y="301.60" width="234.1" height="34.1" rx="17" fill="#bfe3e5" opacity="0.25" filter="url(#pglow)"/>
<rect x="534.9" y="302.40" width="232.1" height="32.5" rx="16.25" fill="url(#pg)"/>
<text x="588.9" y="329.33" font-size="20.6" letter-spacing="-0.25" fill="#fff">远程控制通断</text>
<rect x="533.9" y="345.10" width="234.1" height="34.1" rx="17" fill="#bfe3e5" opacity="0.25" filter="url(#pglow)"/>
<rect x="534.9" y="345.90" width="232.1" height="32.5" rx="16.25" fill="url(#pg)"/>
<text x="566" y="372.83" font-size="20.6" letter-spacing="-0.2" fill="#fff">短信通知 余额通知</text>
<rect x="533.9" y="388.60" width="234.1" height="34.1" rx="17" fill="#bfe3e5" opacity="0.25" filter="url(#pglow)"/>
<rect x="534.9" y="389.40" width="232.1" height="32.5" rx="16.25" fill="url(#pg)"/>
<text x="578.4" y="416.33" font-size="20.6" letter-spacing="-0.3" fill="#fff">物业费到期通知</text>
<rect x="533.9" y="432.10" width="234.1" height="34.1" rx="17" fill="#bfe3e5" opacity="0.25" filter="url(#pglow)"/>
<rect x="534.9" y="432.90" width="232.1" height="32.5" rx="16.25" fill="url(#pg)"/>
<text x="539.7" y="459.83" font-size="20.6" letter-spacing="-0.27" fill="#fff">电量/财务报表下载/统计</text>
<rect x="533.9" y="475.60" width="234.1" height="34.1" rx="17" fill="#bfe3e5" opacity="0.25" filter="url(#pglow)"/>
<rect x="534.9" y="476.40" width="232.1" height="32.5" rx="16.25" fill="url(#pg)"/>
<text x="549.7" y="503.33" font-size="20.6" letter-spacing="-0.6" fill="#fff">水表电表同一系统管理</text>
<rect x="35.6" y="324.6" width="234.2" height="225.4" rx="7.5" fill="#e7e8e9"/><rect x="37.3" y="326.6" width="230.8" height="221.4" rx="6.2" fill="#8f9295"/><rect x="38.6" y="328" width="228.2" height="218.6" rx="5.2" fill="url(#bxbody)"/><rect x="38.6" y="328" width="228.2" height="3.2" rx="1.5" fill="#d0d2d3"/><rect x="40" y="331" width="225.4" height="7.2" fill="url(#bxtop)"/><rect x="263.8" y="331" width="3" height="214" fill="#d8dadb" opacity="0.9"/><rect x="94.2" y="338" width="5.8" height="150" fill="#cdcfd1" opacity="0.85"/><rect x="149.6" y="338" width="5.8" height="150" fill="#cdcfd1" opacity="0.85"/><rect x="205.0" y="338" width="5.8" height="150" fill="#cdcfd1" opacity="0.85"/><path d="M48.2 419.5V416Q48.2 412.3 53.1 412.3H85.1Q90.0 412.3 90.0 416V419.5Z" fill="#cbcdcf" stroke="#74777a" stroke-width="1.1"/><path d="M50.6 419.5V416.6Q50.6 414.4 54.1 414.4H84.1Q87.6 414.4 87.6 416.6V419.5" fill="none" stroke="#e4e5e6" stroke-width="0.8"/><rect x="64.6" y="414.8" width="0.9" height="4.4" fill="#6f7275"/><rect x="69.2" y="414.8" width="0.9" height="4.4" fill="#6f7275"/><path d="M104.1 419.5V416Q104.1 412.3 109.0 412.3H141.0Q145.9 412.3 145.9 416V419.5Z" fill="#cbcdcf" stroke="#74777a" stroke-width="1.1"/><path d="M106.5 419.5V416.6Q106.5 414.4 110.0 414.4H140.0Q143.5 414.4 143.5 416.6V419.5" fill="none" stroke="#e4e5e6" stroke-width="0.8"/><rect x="120.5" y="414.8" width="0.9" height="4.4" fill="#6f7275"/><rect x="125.1" y="414.8" width="0.9" height="4.4" fill="#6f7275"/><path d="M159.1 419.5V416Q159.1 412.3 164.0 412.3H196.0Q200.9 412.3 200.9 416V419.5Z" fill="#cbcdcf" stroke="#74777a" stroke-width="1.1"/><path d="M161.5 419.5V416.6Q161.5 414.4 165.0 414.4H195.0Q198.5 414.4 198.5 416.6V419.5" fill="none" stroke="#e4e5e6" stroke-width="0.8"/><rect x="175.5" y="414.8" width="0.9" height="4.4" fill="#6f7275"/><rect x="180.1" y="414.8" width="0.9" height="4.4" fill="#6f7275"/><path d="M214.8 419.5V416Q214.8 412.3 219.7 412.3H251.7Q256.6 412.3 256.6 416V419.5Z" fill="#cbcdcf" stroke="#74777a" stroke-width="1.1"/><path d="M217.2 419.5V416.6Q217.2 414.4 220.7 414.4H250.7Q254.2 414.4 254.2 416.6V419.5" fill="none" stroke="#e4e5e6" stroke-width="0.8"/><rect x="231.2" y="414.8" width="0.9" height="4.4" fill="#6f7275"/><rect x="235.8" y="414.8" width="0.9" height="4.4" fill="#6f7275"/><rect x="41.5" y="488.4" width="223" height="57.6" fill="#c6c8ca"/><rect x="41.5" y="488" width="223" height="1" fill="#9a9c9f"/><rect x="48.8" y="491.3" width="102.4" height="53.5" fill="#c9cbcd" stroke="#a3a6a9" stroke-width="0.6"/><rect x="155" y="491.3" width="108" height="53.5" fill="#c9cbcd" stroke="#a3a6a9" stroke-width="0.6"/><rect x="49.2" y="493.8" width="101.6" height="23.7" fill="#adafb1"/><rect x="155.4" y="493.8" width="107" height="23.7" fill="#adafb1"/><rect x="49.2" y="504.5" width="101.6" height="1.2" fill="#bcbec0"/><rect x="155.4" y="504.5" width="63" height="1.2" fill="#bcbec0"/><rect x="49.2" y="517.5" width="101.6" height="4.4" fill="#dadcdd"/><rect x="155.4" y="517.5" width="63" height="4.4" fill="#dadcdd"/><rect x="49.2" y="533.4" width="101.6" height="0.9" fill="#a9abad"/><rect x="155.4" y="533.4" width="107" height="0.9" fill="#a9abad"/><rect x="49.2" y="539.4" width="101.6" height="0.9" fill="#b4b6b8"/><rect x="155.4" y="539.4" width="107" height="0.9" fill="#b4b6b8"/><circle cx="57.0" cy="511.3" r="1.5" fill="#c7c9cb" stroke="#85888b" stroke-width="0.5"/><circle cx="85.5" cy="511.3" r="1.5" fill="#c7c9cb" stroke="#85888b" stroke-width="0.5"/><circle cx="114.5" cy="511.3" r="1.5" fill="#c7c9cb" stroke="#85888b" stroke-width="0.5"/><circle cx="143.0" cy="511.3" r="1.5" fill="#c7c9cb" stroke="#85888b" stroke-width="0.5"/><circle cx="165.0" cy="511.3" r="1.5" fill="#c7c9cb" stroke="#85888b" stroke-width="0.5"/><circle cx="193.0" cy="511.3" r="1.5" fill="#c7c9cb" stroke="#85888b" stroke-width="0.5"/><circle cx="48.5" cy="411" r="1.6" fill="#cfd1d3" stroke="#7d8084" stroke-width="0.5"/><rect x="36.6" y="395" width="2.2" height="9" fill="#a2a5a8"/><rect x="36.6" y="505" width="2.2" height="9" fill="#a2a5a8"/><rect x="266.6" y="452" width="2.2" height="9" fill="#a2a5a8"/>
<use href="#meter" x="45.6" y="339.5"/>
<use href="#meter" x="101.5" y="339.5"/>
<use href="#meter" x="156.5" y="339.5"/>
<use href="#meter" x="212.2" y="339.5"/>
<use href="#meter" x="45.6" y="419.0"/>
<use href="#meter" x="101.5" y="419.0"/>
<use href="#meter" x="156.5" y="419.0"/>
<use href="#meter" x="212.2" y="419.0"/>
<circle cx="152.6" cy="461" r="3.9" fill="#1f7fb8"/><circle cx="152.2" cy="460.4" r="2.3" fill="#2b97cf"/>
<path d="M80.6 395V411q0 2 2 2" fill="none" stroke="#d8262e" stroke-width="1.00" stroke-linejoin="round"/><path d="M84.5 395V407.3q0 2 2 2" fill="none" stroke="#2ba4e0" stroke-width="1.00" stroke-linejoin="round"/><path d="M80.6 474.5V492.2" fill="none" stroke="#d8262e" stroke-width="1.00" stroke-linejoin="round"/><path d="M84.5 474.5V489.6" fill="none" stroke="#2ba4e0" stroke-width="1.00" stroke-linejoin="round"/><path d="M136.5 395V411q0 2 2 2" fill="none" stroke="#d8262e" stroke-width="1.00" stroke-linejoin="round"/><path d="M140.4 395V407.3q0 2 2 2" fill="none" stroke="#2ba4e0" stroke-width="1.00" stroke-linejoin="round"/><path d="M136.5 474.5V492.2" fill="none" stroke="#d8262e" stroke-width="1.00" stroke-linejoin="round"/><path d="M140.4 474.5V489.6" fill="none" stroke="#2ba4e0" stroke-width="1.00" stroke-linejoin="round"/><path d="M191.5 395V411q0 2 2 2" fill="none" stroke="#d8262e" stroke-width="1.00" stroke-linejoin="round"/><path d="M195.4 395V407.3q0 2 2 2" fill="none" stroke="#2ba4e0" stroke-width="1.00" stroke-linejoin="round"/><path d="M191.5 474.5V492.2" fill="none" stroke="#d8262e" stroke-width="1.00" stroke-linejoin="round"/><path d="M195.4 474.5V489.6" fill="none" stroke="#2ba4e0" stroke-width="1.00" stroke-linejoin="round"/><path d="M247.2 395V411q0 2 2 2" fill="none" stroke="#d8262e" stroke-width="1.00" stroke-linejoin="round"/><path d="M251.1 395V407.3q0 2 2 2" fill="none" stroke="#2ba4e0" stroke-width="1.00" stroke-linejoin="round"/><path d="M247.2 474.5V492.2" fill="none" stroke="#d8262e" stroke-width="1.00" stroke-linejoin="round"/><path d="M251.1 474.5V489.6" fill="none" stroke="#2ba4e0" stroke-width="1.00" stroke-linejoin="round"/><path d="M82.6 413H255q3.6 0 4.6 3.5q1 3 1 6V489q0 3.2-3.2 3.2H48.6q-4 0-4 4V522.2q0 4 4 4H212" fill="none" stroke="#d8262e" stroke-width="1.05" stroke-linejoin="round"/><path d="M86.5 409.3H257q4 0 5.2 3.5" fill="none" stroke="#2ba4e0" stroke-width="1.05" stroke-linejoin="round"/><path d="M258 489.6H53.4q-4 0-4 4V520.6q0 4 4 4H212" fill="none" stroke="#2ba4e0" stroke-width="1.05" stroke-linejoin="round"/>
<rect x="218.7" y="495" width="43.2" height="43.8" rx="2.2" fill="#17181b"/><rect x="216.6" y="510" width="2.6" height="13" fill="#3a3c40"/><rect x="219.4" y="502.5" width="41.8" height="9.4" fill="#29a3e6"/><circle cx="235.6" cy="507.6" r="0.85" fill="#8a3a30"/><circle cx="239.4" cy="507.6" r="0.85" fill="#6a5a30"/><circle cx="243.4" cy="507.6" r="0.85" fill="#54603a"/><circle cx="247.5" cy="507.6" r="0.85" fill="#4a5a44"/><rect x="235" y="505" width="13" height="0.7" fill="#bfe4fa" opacity="0.8"/><rect x="256.4" y="504.4" width="2.2" height="1.6" fill="#e8f4fc"/><rect x="256.4" y="508" width="2.2" height="1.6" fill="#e8f4fc"/><rect x="223.5" y="496.1" width="5.4" height="1.6" rx="0.8" fill="#8a8c90"/><rect x="223.5" y="536.1" width="5.4" height="1.6" rx="0.8" fill="#8a8c90"/><rect x="249.8" y="496.1" width="5.4" height="1.6" rx="0.8" fill="#8a8c90"/><rect x="249.8" y="536.1" width="5.4" height="1.6" rx="0.8" fill="#8a8c90"/><rect x="225" y="513.6" width="11" height="0.9" fill="#b8b8b8"/><rect x="241" y="513.6" width="11" height="0.9" fill="#b8b8b8"/><rect x="233" y="516.4" width="14" height="1.2" fill="#3a9ee0"/><rect x="231" y="519.6" width="19" height="1.5" fill="#3a9ee0"/><rect x="227" y="523.4" width="6.5" height="1.3" fill="#c4c4c4"/><rect x="235" y="523.8" width="5" height="0.8" fill="#bbb"/><rect x="226" y="527" width="9" height="0.9" fill="#999"/><rect x="238" y="527" width="4" height="0.9" fill="#999"/><rect x="245" y="527" width="5" height="0.9" fill="#999"/><rect x="226" y="529.6" width="4" height="1.8" fill="#bbb"/><rect x="231.9" y="529" width="20.9" height="2.9" fill="#cfd0d1"/><circle cx="223" cy="515.0" r="1.5" fill="#2c2e33"/><circle cx="257.6" cy="515.0" r="1.5" fill="#2c2e33"/><circle cx="223" cy="521.5" r="1.5" fill="#2c2e33"/><circle cx="257.6" cy="521.5" r="1.5" fill="#2c2e33"/><circle cx="223" cy="528.0" r="1.5" fill="#2c2e33"/><circle cx="257.6" cy="528.0" r="1.5" fill="#2c2e33"/>
<rect x="211.9" y="522.5" width="5" height="5.6" fill="#2fb84a"/><circle cx="214.4" cy="524" r="0.8" fill="#14501f"/><circle cx="214.4" cy="526.6" r="0.8" fill="#14501f"/>
<circle cx="208.5" cy="517.3" r="4.6" fill="#2aa7e8" stroke="#e9f6fd" stroke-width="0.5"/><rect x="205.8" y="516.5" width="5.4" height="1.6" fill="#fff"/>
<circle cx="208.2" cy="533.8" r="5" fill="#fff" opacity="0.8"/><circle cx="208.2" cy="533.8" r="4.3" fill="#e8202a"/><rect x="205.6" y="533.1" width="5.2" height="1.5" fill="#fff"/><rect x="207.45" y="531.2" width="1.5" height="5.2" fill="#fff"/>
<rect x="262" y="526.8" width="3" height="2" fill="#c8a040"/>
<path d="M264.8 527.8H273.5q5 0 5-5V437Q278.5 426.8 287 426.9Q294.5 427.5 302 435.2" fill="none" stroke="#111" stroke-width="1.8"/>
<rect x="304.40" y="336.50" width="2.00" height="83.50" fill="#48494d"/><rect x="304.40" y="336.50" width="2.00" height="5.00" fill="#222326"/><rect x="303.20" y="386.00" width="4.40" height="12.00" rx="1.10" fill="#1b1c1f"/><path d="M304.20 418.00C303.80 429.55 302.63 435.10 297.50 438.70L313.30 438.70C308.16 435.10 307.00 429.55 306.60 418.00Z" fill="#1b1c1f"/><ellipse cx="305.40" cy="439.00" rx="7.90" ry="3.00" fill="#1b1c1f"/>
<path d="M285.73 314.36 A30.60 30.60 0 0 1 332.66 323.91" fill="none" stroke="#12bbf7" stroke-width="6.20"/><path d="M293.26 324.78 A17.80 17.80 0 0 1 321.90 331.13" fill="none" stroke="#12bbf7" stroke-width="5.30"/><path d="M299.43 334.17 A7.20 7.20 0 0 1 312.56 337.45" fill="none" stroke="#12bbf7" stroke-width="4.40"/>
<text x="308.6" y="355.04" font-size="10.9" font-weight="500" fill="#12bbf7">4G信号</text>
<g fill="#cfd3e6" stroke="#cfd3e6" stroke-width="2.6" filter="url(#nglow)" opacity="0.9"><rect x="17.60" y="535.20" width="91.40" height="23.80" rx="5.50"/><path d="M95.50 537.00L105.30 529.60L106.80 540.00Z"/></g><g fill="#fff" stroke="#fff" stroke-width="1.6" stroke-linejoin="round"><rect x="17.60" y="535.20" width="91.40" height="23.80" rx="5.50"/><path d="M95.50 537.00L105.30 529.60L106.80 540.00Z"/></g><g fill="#1f2e86"><rect x="17.60" y="535.20" width="91.40" height="23.80" rx="5.50"/><path d="M95.50 537.00L105.30 529.60L106.80 540.00Z"/></g><text x="20.1" y="552.04" font-size="13" font-weight="500" letter-spacing="-0.1" fill="#fff">485连线采集器</text>
<g fill="#cfd3e6" stroke="#cfd3e6" stroke-width="2.6" filter="url(#nglow)" opacity="0.9"><rect x="156.80" y="547.20" width="106.40" height="23.60" rx="5.50"/><path d="M248.40 552.00L249.00 540.40L262.40 553.00Z"/></g><g fill="#fff" stroke="#fff" stroke-width="1.6" stroke-linejoin="round"><rect x="156.80" y="547.20" width="106.40" height="23.60" rx="5.50"/><path d="M248.40 552.00L249.00 540.40L262.40 553.00Z"/></g><g fill="#1f2e86"><rect x="156.80" y="547.20" width="106.40" height="23.60" rx="5.50"/><path d="M248.40 552.00L249.00 540.40L262.40 553.00Z"/></g><text transform="translate(161.2 563.79) scale(0.937 1)" font-size="12.6" font-weight="500" fill="#fff">4G电表集中采集器</text>
<path d="M62.20 589.50H170.00L207.60 574.40L193.00 589.50H235.00Q246.00 589.50 246.00 600.50V633.60Q246.00 644.60 235.00 644.60H62.20Q51.20 644.60 51.20 633.60V600.50Q51.20 589.50 62.20 589.50Z" fill="#fff" stroke="#17959b" stroke-width="2.2" stroke-linejoin="round"/><text x="70.65" y="613.38" font-size="18.9" letter-spacing="0.32" fill="#17959b">一台电表采集器可</text><text x="70.65" y="636.78" font-size="18.9" fill="#17959b">采集32台左右电表</text>
<path d="M454 602L459 611.5Q461.6 616.8 468 616.8H766Q778 616.8 778 628.8V731.8Q778 743.8 766 743.8H452.5Q440.5 743.8 440.5 731.8V720" fill="none" stroke="#0b0b0b" stroke-width="2.50" stroke-linecap="round" stroke-linecap="butt"/><use href="#wm" x="426.5" y="546.0"/><use href="#wm" x="559.0" y="546.0"/><use href="#wm" x="691.0" y="546.0"/><use href="#wm" x="559.0" y="674.0"/><use href="#wm" x="691.0" y="674.0"/><path d="M434.3 568.8L446.2 589.8" fill="none" stroke="#0b0b0b" stroke-width="2.30" stroke-linecap="round" stroke-linecap="butt"/><path d="M446.9 589.2L450.9 595.6" stroke="#2a9be0" stroke-width="1.3" fill="none"/><path d="M450.9 595.6L454.6 602" stroke="#f2e02a" stroke-width="1.3" fill="none"/><path d="M445.6 590.2L449.4 596.6" stroke="#a9743c" stroke-width="1.3" fill="none"/><path d="M449.4 596.6L453.4 602.8" stroke="#e0242c" stroke-width="1.3" fill="none"/><path d="M566.8 568.8Q573.3 576.8 580.4 589.8" fill="none" stroke="#0b0b0b" stroke-width="2.20" stroke-linecap="round" stroke-linecap="butt"/><path d="M579.8 589.3C575.4 598.8 576.9 605.8 578.5 618.3" fill="none" stroke="#a9743c" stroke-width="1.2"/><path d="M580.8 589.3C585.9 597.8 585.4 607.8 581.5 615.8" fill="none" stroke="#2a9be0" stroke-width="1.2"/><path d="M566.8 616.8A12.5 3.4 0 0 1 591.8 616.8" fill="none" stroke="#f2e02a" stroke-width="1.2"/><path d="M566.8 616.8A12.5 3.4 0 0 0 591.8 616.8" fill="none" stroke="#e0242c" stroke-width="1.2"/><path d="M698.8 568.8Q705.3 576.8 712.4 589.8" fill="none" stroke="#0b0b0b" stroke-width="2.20" stroke-linecap="round" stroke-linecap="butt"/><path d="M711.8 589.3C707.4 598.8 708.9 605.8 710.5 618.3" fill="none" stroke="#a9743c" stroke-width="1.2"/><path d="M712.8 589.3C717.9 597.8 717.4 607.8 713.5 615.8" fill="none" stroke="#2a9be0" stroke-width="1.2"/><path d="M698.8 616.8A12.5 3.4 0 0 1 723.8 616.8" fill="none" stroke="#f2e02a" stroke-width="1.2"/><path d="M698.8 616.8A12.5 3.4 0 0 0 723.8 616.8" fill="none" stroke="#e0242c" stroke-width="1.2"/><path d="M566.8 696.8Q573.3 704.8 580.4 717.8" fill="none" stroke="#0b0b0b" stroke-width="2.20" stroke-linecap="round" stroke-linecap="butt"/><path d="M579.8 717.3C575.4 726.8 576.9 733.8 578.5 745.3" fill="none" stroke="#a9743c" stroke-width="1.2"/><path d="M580.8 717.3C585.9 725.8 585.4 735.8 581.5 742.8" fill="none" stroke="#2a9be0" stroke-width="1.2"/><path d="M566.8 743.8A12.5 3.4 0 0 1 591.8 743.8" fill="none" stroke="#f2e02a" stroke-width="1.2"/><path d="M566.8 743.8A12.5 3.4 0 0 0 591.8 743.8" fill="none" stroke="#e0242c" stroke-width="1.2"/><path d="M698.8 696.8Q705.3 704.8 712.4 717.8" fill="none" stroke="#0b0b0b" stroke-width="2.20" stroke-linecap="round" stroke-linecap="butt"/><path d="M711.8 717.3C707.4 726.8 708.9 733.8 710.5 745.3" fill="none" stroke="#a9743c" stroke-width="1.2"/><path d="M712.8 717.3C717.9 725.8 717.4 735.8 713.5 742.8" fill="none" stroke="#2a9be0" stroke-width="1.2"/><path d="M698.8 743.8A12.5 3.4 0 0 1 723.8 743.8" fill="none" stroke="#f2e02a" stroke-width="1.2"/><path d="M698.8 743.8A12.5 3.4 0 0 0 723.8 743.8" fill="none" stroke="#e0242c" stroke-width="1.2"/><path d="M467.6 743.8A6.2 1.9 0 0 1 480 743.8" fill="none" stroke="#2a9be0" stroke-width="1.1"/><path d="M467.6 743.8A6.2 1.9 0 0 0 480 743.8" fill="none" stroke="#f2e02a" stroke-width="1.1"/>
<path d="M352.5 653Q362 643.4 376 641.4H385.8Q391.8 641.4 391.8 647.4V723.6Q391.8 729.6 397.8 729.6H423.8Q429.8 729.6 429.8 723.6V720" fill="none" stroke="#0b0b0b" stroke-width="2.00" stroke-linecap="round" stroke-linecap="butt"/>
<rect x="349.05" y="575.20" width="1.50" height="66.80" fill="#48494d"/><rect x="349.05" y="575.20" width="1.50" height="5.00" fill="#222326"/><rect x="348.00" y="615.00" width="3.60" height="9.50" rx="0.90" fill="#1b1c1f"/><path d="M348.85 640.00C348.45 648.96 347.60 652.40 343.50 656.00L356.10 656.00C352.00 652.40 351.15 648.96 350.75 640.00Z" fill="#1b1c1f"/><ellipse cx="349.80" cy="656.30" rx="6.30" ry="3.00" fill="#1b1c1f"/>
<path d="M336.97 561.38 A18.50 18.50 0 0 1 364.03 561.38" fill="none" stroke="#12bbf7" stroke-width="3.60"/><path d="M342.31 566.36 A11.20 11.20 0 0 1 358.69 566.36" fill="none" stroke="#12bbf7" stroke-width="3.30"/><path d="M346.59 571.05 A4.90 4.90 0 0 1 354.41 571.05" fill="none" stroke="#12bbf7" stroke-width="3.00"/>
<text x="352.9" y="579.32" font-size="9" font-weight="500" fill="#12bbf7">4G信号</text>
<path d="M451.7 720V722.6Q451.7 729.6 458.7 729.6H465.4Q472.4 729.6 472.4 722.6V706Q472.4 699.2 479.4 699.2H486" fill="none" stroke="#0b0b0b" stroke-width="1.90" stroke-linecap="round" stroke-linecap="butt"/>
<path d="M484 699.4Q486 694.2 490 694.2H495.4Q496.5 694.2 496.5 695.4V703.4Q496.5 704.6 495.4 704.6H490Q486 704.6 484 699.4Z" fill="#111"/><rect x="496" y="695.6" width="7.4" height="1.7" fill="#111"/><rect x="496" y="701.2" width="7.4" height="1.7" fill="#111"/>
<rect x="412.6" y="657.0" width="7.0" height="4.0" rx="1" fill="#b9bdc1" stroke="#8e9296" stroke-width="0.4"/><rect x="413.4" y="664.5" width="6.0" height="4.0" rx="1" fill="#b9bdc1" stroke="#8e9296" stroke-width="0.4"/><rect x="412.6" y="695.5" width="7.0" height="4.0" rx="1" fill="#b9bdc1" stroke="#8e9296" stroke-width="0.4"/><rect x="413.4" y="703.0" width="6.0" height="4.0" rx="1" fill="#b9bdc1" stroke="#8e9296" stroke-width="0.4"/><rect x="460.6" y="656.0" width="6.0" height="3.6" rx="1" fill="#b9bdc1" stroke="#8e9296" stroke-width="0.4"/><rect x="461.0" y="662.5" width="5.4" height="3.6" rx="1" fill="#b9bdc1" stroke="#8e9296" stroke-width="0.4"/><rect x="460.6" y="699.2" width="6.0" height="3.6" rx="1" fill="#b9bdc1" stroke="#8e9296" stroke-width="0.4"/><rect x="461.0" y="705.6" width="5.4" height="3.6" rx="1" fill="#b9bdc1" stroke="#8e9296" stroke-width="0.4"/><rect x="418.6" y="650.3" width="42.8" height="66.6" rx="3" fill="#c3c7ca" stroke="#9fa3a7" stroke-width="0.7"/><rect x="420.6" y="652.3" width="38.8" height="62.6" rx="2" fill="url(#cbx)" stroke="#eef0f1" stroke-width="0.6"/><rect x="430.8" y="663.6" width="16.8" height="7.4" fill="#fafafa" stroke="#aaa" stroke-width="0.3"/><rect x="435" y="664.6" width="8" height="1" fill="#222"/><rect x="432.2" y="666.6" width="14" height="3" fill="#333"/><rect x="434" y="667.2" width="1" height="1.8" fill="#eee"/><rect x="438" y="667.2" width="1.4" height="1.8" fill="#eee"/><rect x="442" y="667.2" width="1" height="1.8" fill="#eee"/><rect x="425.3" y="688.4" width="27.1" height="12.8" fill="#f3f3f3" stroke="#bbb" stroke-width="0.3"/><rect x="425.3" y="688.4" width="27.1" height="4.9" fill="#d8232a"/><rect x="427" y="690.2" width="1.6" height="1.4" fill="#f4e04a"/><rect x="431" y="690" width="1.8" height="1.8" fill="#fff"/><rect x="436" y="690.4" width="13" height="1" fill="#f6c9cb"/><path d="M427.2 700.4L430.8 694.2L434.4 700.4Z" fill="#f5d21f" stroke="#222" stroke-width="0.5"/><rect x="436" y="695" width="14" height="0.8" fill="#999"/><rect x="436" y="697" width="12" height="0.8" fill="#aaa"/><rect x="436" y="699" width="13" height="0.8" fill="#999"/><rect x="427.55" y="716.4" width="4.4" height="4.4" rx="0.8" fill="#b4b8bc" stroke="#7e8286" stroke-width="0.5"/><rect x="438.30" y="716.4" width="4.4" height="4.4" rx="0.8" fill="#b4b8bc" stroke="#7e8286" stroke-width="0.5"/><rect x="449.55" y="716.4" width="4.4" height="4.4" rx="0.8" fill="#b4b8bc" stroke="#7e8286" stroke-width="0.5"/>
<g fill="#cfd3e6" stroke="#cfd3e6" stroke-width="2.6" filter="url(#nglow)" opacity="0.9"><rect x="432.90" y="626.10" width="74.30" height="17.50" rx="4.50"/><path d="M437.30 642.00L436.40 648.20L446.90 642.00Z"/></g><g fill="#fff" stroke="#fff" stroke-width="1.6" stroke-linejoin="round"><rect x="432.90" y="626.10" width="74.30" height="17.50" rx="4.50"/><path d="M437.30 642.00L436.40 648.20L446.90 642.00Z"/></g><g fill="#1f2e86"><rect x="432.90" y="626.10" width="74.30" height="17.50" rx="4.50"/><path d="M437.30 642.00L436.40 648.20L446.90 642.00Z"/></g><text transform="translate(437.85 638.61) scale(0.909 1)" font-size="9.9" font-weight="500" letter-spacing="0.25" fill="#fff">水表无线采集器</text>
<g fill="#cfd3e6" stroke="#cfd3e6" stroke-width="2.6" filter="url(#nglow)" opacity="0.9"><rect x="472.60" y="674.60" width="50.80" height="13.70" rx="4.00"/><path d="M477.50 687.00L486.30 692.20L488.00 687.00Z"/></g><g fill="#fff" stroke="#fff" stroke-width="1.6" stroke-linejoin="round"><rect x="472.60" y="674.60" width="50.80" height="13.70" rx="4.00"/><path d="M477.50 687.00L486.30 692.20L488.00 687.00Z"/></g><g fill="#1f2e86"><rect x="472.60" y="674.60" width="50.80" height="13.70" rx="4.00"/><path d="M477.50 687.00L486.30 692.20L488.00 687.00Z"/></g><text transform="translate(479.4 685.21) scale(0.909 1)" font-size="9.9" font-weight="500" letter-spacing="0.43" fill="#fff">电源插头</text>
<g fill="#cfd3e6" stroke="#cfd3e6" stroke-width="2.6" filter="url(#nglow)" opacity="0.9"><rect x="485.40" y="717.70" width="74.40" height="17.80" rx="4.50"/><path d="M490.60 734.00L488.90 740.00L500.30 734.00Z"/></g><g fill="#fff" stroke="#fff" stroke-width="1.6" stroke-linejoin="round"><rect x="485.40" y="717.70" width="74.40" height="17.80" rx="4.50"/><path d="M490.60 734.00L488.90 740.00L500.30 734.00Z"/></g><g fill="#1f2e86"><rect x="485.40" y="717.70" width="74.40" height="17.80" rx="4.50"/><path d="M490.60 734.00L488.90 740.00L500.30 734.00Z"/></g><text transform="translate(492 730.36) scale(0.909 1)" font-size="9.9" font-weight="500" letter-spacing="0.15" fill="#fff">485连线采集器</text>
<path d="M187.60 726.80H300.00L378.40 697.80L338.50 726.80H360.20Q371.20 726.80 371.20 737.80V770.10Q371.20 781.10 360.20 781.10H187.60Q176.60 781.10 176.60 770.10V737.80Q176.60 726.80 187.60 726.80Z" fill="#fff" stroke="#17959b" stroke-width="2.2" stroke-linejoin="round"/><text x="197.1" y="751.38" font-size="18.9" letter-spacing="0.11" fill="#17959b">一台水表采集器可</text><text x="197.1" y="774.38" font-size="18.9" letter-spacing="-0.15" fill="#17959b">采集60台左右水表</text>
</svg>
</body></html>
